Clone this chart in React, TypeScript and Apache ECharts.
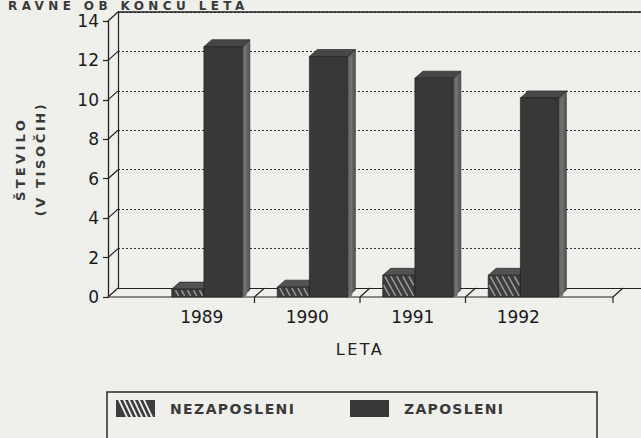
import React, { useEffect, useRef } from 'react';
import * as echarts from 'echarts';

// ---- data ----
const years = ['1989', '1990', '1991', '1992'];
const nezaposleni = [0.4, 0.5, 1.1, 1.1];
const zaposleni = [12.7, 12.2, 11.1, 10.1];
const yTicks = [0, 2, 4, 6, 8, 10, 12, 14];
const seriesNames = ['NEZAPOSLENI', 'ZAPOSLENI'];
const titleText = 'RAVNE OB KONCU LETA';
const yNameLines = ['ŠTEVILO', '(V TISOČIH)'];
const xName = 'LETA';

// ---- layout (pixels) ----
const BACK = { left: 118, top: 12, bottom: 288 };
const DEPTH = { dx: 10, dy: -9 };
const FRONT = { left: 108, top: 21, bottom: 297, right: 613 };
const CAT = { left: 149, right: 571 };
const BAR_DEPTH = { dx: 8, dy: -7 };
const Y_MAX = 14;
const Y_STEP = 2;
const H = 438;
const FONT = 'DejaVu Sans';

const SPACING: Record<string, number> = {
  [titleText]: 4.4,
  [yNameLines[0]]: 3.3,
  [yNameLines[1]]: 2.6,
  [xName]: 2.5,
  [seriesNames[0]]: 1.4,
  [seriesNames[1]]: 1.3,
};

// hatched legend icon: rect with slanted holes (counter-clockwise)
const hatchIcon = (() => {
  let d = 'path://M0,0 L39,0 L39,17 L0,17 Z';
  for (let a = 2; a <= 27; a += 5) {
    d += ` M${a},0 L${a + 8},17 L${a + 10},17 L${a + 2},0 Z`;
  }
  return d;
})();

function hatch(x0: number, x1: number, yT: number, yB: number, spacing: number, slant: number, stroke: string) {
  const out: any[] = [];
  const h = yB - yT;
  if (h < 1) return out;
  const sh = slant * h;
  for (let a = x0 - sh; a <= x1; a += spacing) {
    const tmin = Math.max(0, (x0 - a) / sh);
    const tmax = Math.min(1, (x1 - a) / sh);
    if (tmax <= tmin) continue;
    out.push({
      type: 'line',
      shape: { x1: a + sh * tmin, y1: yT + h * tmin, x2: a + sh * tmax, y2: yT + h * tmax },
      style: { stroke, lineWidth: 1.5 },
    });
  }
  return out;
}

function makeRender(kind: 'nez' | 'zap') {
  return (params: any, api: any) => {
    const i = api.value(0);
    const v = api.value(1);
    const base = api.coord([i, 0]);
    const top = api.coord([i, v]);
    const band = api.size([1, 0])[0];
    const cx = base[0];
    const [l, r] = kind === 'nez' ? [-0.285, 0.02] : [0.02, 0.38];
    const x0 = cx + l * band;
    const x1 = cx + r * band;
    const yT = top[1];
    const yB = base[1];
    const { dx, dy } = BAR_DEPTH;
    const cFront = kind === 'nez' ? '#3d3d3d' : '#383838';
    const cTop = kind === 'nez' ? '#525252' : '#474747';
    const cSide = kind === 'nez' ? '#4a4a4a' : '#5e5e5e';
    const edge = { stroke: '#1c1c1c', lineWidth: 0.6 };
    const children: any[] = [
      {
        type: 'polygon',
        shape: { points: [[x1, yT], [x1 + dx, yT + dy], [x1 + dx, yB + dy], [x1, yB]] },
        style: { fill: cSide, ...edge },
      },
      {
        type: 'polygon',
        shape: { points: [[x0, yT], [x0 + dx, yT + dy], [x1 + dx, yT + dy], [x1, yT]] },
        style: { fill: cTop, ...edge },
      },
      {
        type: 'rect',
        shape: { x: x0, y: yT, width: x1 - x0, height: yB - yT },
        style: { fill: cFront, ...edge },
      },
    ];
    if (kind === 'nez') {
      children.push(...hatch(x0 + 1, x1 - 1, yT + 1, yB - 1, 6, 0.55, '#9c9c9c'));
    } else {
      children.push({
        type: 'polygon',
        shape: { points: [[x1 + 2, yT + 1], [x1 + 5, yT - 2], [x1 + 5, yB - 2], [x1 + 2, yB + 1]] },
        style: { fill: '#717171' },
      });
    }
    return { type: 'group', children };
  };
}

function buildFrame() {
  const els: any[] = [];
  const stroke = { stroke: '#222', lineWidth: 1.2 };
  const line = (x1: number, y1: number, x2: number, y2: number) => ({
    type: 'line', z: 1, shape: { x1, y1, x2, y2 }, style: stroke,
  });
  const yF = (v: number) => FRONT.bottom - (v / Y_MAX) * (FRONT.bottom - FRONT.top);
  els.push(line(FRONT.left, FRONT.bottom, FRONT.right, FRONT.bottom));
  yTicks.forEach((v) => els.push(line(FRONT.left, yF(v), FRONT.left + DEPTH.dx, yF(v) + DEPTH.dy)));
  const band = (CAT.right - CAT.left) / years.length;
  const bounds = years.slice(1).map((_, k) => CAT.left + band * (k + 1)).concat([FRONT.right]);
  bounds.forEach((b) => {
    els.push(line(b, FRONT.bottom, b, FRONT.bottom + 6));
    els.push(line(b, FRONT.bottom, b + DEPTH.dx, FRONT.bottom + DEPTH.dy));
  });
  els.push({
    type: 'rect', z: 1,
    shape: { x: 107, y: 392, width: 490, height: 80 },
    style: { fill: 'none', stroke: '#2a2a2a', lineWidth: 1.5 },
  });
  els.push({
    type: 'text', z: 1, x: 8, y: 0,
    style: {
      text: titleText, fill: '#3a3a3a', fontSize: 12, lineHeight: 11, fontWeight: 'bold', fontFamily: FONT,
      verticalAlign: 'top',
    },
  });
  return els;
}

function applySpacing(el: HTMLElement) {
  el.querySelectorAll('text').forEach((t) => {
    const s = SPACING[(t.textContent || '').trim()];
    if (s !== undefined) t.setAttribute('letter-spacing', String(s));
  });
}

export default function App() {
  const ref = useRef<HTMLDivElement>(null);
  useEffect(() => {
    if (!ref.current) return;
    const chart = echarts.init(ref.current, null, { renderer: 'svg' });
    const legendText = {
      fontSize: 14, fontWeight: 'bold', fontFamily: FONT, color: '#3a3a3a', padding: [0, 0, 0, 10],
    };
    chart.setOption({
      animation: false,
      backgroundColor: '#efefec',
      grid: [
        { left: BACK.left, right: 0, top: BACK.top, bottom: H - BACK.bottom },
        { left: CAT.left, right: 641 - CAT.right, top: FRONT.top, bottom: H - FRONT.bottom },
      ],
      xAxis: [
        {
          gridIndex: 0, type: 'value', min: 0, max: 1, position: 'bottom',
          axisLine: { show: true, lineStyle: { color: '#222', width: 1.2 } },
          axisTick: { show: false }, axisLabel: { show: false }, splitLine: { show: false },
        },
        {
          gridIndex: 0, type: 'value', min: 0, max: 1, position: 'top',
          axisLine: { show: true, lineStyle: { color: '#222', width: 1.5 } },
          axisTick: { show: false }, axisLabel: { show: false }, splitLine: { show: false },
        },
        {
          gridIndex: 1, type: 'category', data: years,
          axisLine: { show: false }, axisTick: { show: false },
          axisLabel: { fontSize: 17, fontFamily: FONT, color: '#1a1a1a', margin: 11 },
          name: xName, nameLocation: 'middle', nameGap: 44,
          nameTextStyle: { fontSize: 16, fontFamily: FONT, color: '#222' },
        },
      ],
      yAxis: [
        {
          gridIndex: 0, type: 'value', min: 0, max: Y_MAX, interval: Y_STEP,
          axisLine: { show: true, lineStyle: { color: '#222', width: 1.2 } },
          axisTick: { show: false }, axisLabel: { show: false },
          splitLine: { show: true, lineStyle: { color: '#2e2e2e', type: [2, 2], width: 1.2 } },
        },
        {
          gridIndex: 1, type: 'value', min: 0, max: Y_MAX, interval: Y_STEP, offset: CAT.left - FRONT.left,
          axisLine: { show: true, lineStyle: { color: '#222', width: 1.3 } },
          axisTick: { show: true, length: 5, lineStyle: { color: '#222', width: 1.2 } },
          axisLabel: { fontSize: 17, lineHeight: 16, fontFamily: FONT, color: '#1a1a1a', margin: 9 },
          splitLine: { show: false },
          name: yNameLines.join('\n'), nameLocation: 'middle', nameRotate: 90, nameGap: 58,
          nameTextStyle: { fontSize: 13, fontWeight: 'bold', fontFamily: FONT, color: '#3a3a3a', lineHeight: 20 },
        },
      ],
      legend: [
        {
          left: 116, top: 400, itemWidth: 39, itemHeight: 17, selectedMode: false, padding: 0,
          data: [{ name: seriesNames[0], icon: hatchIcon }], textStyle: legendText,
        },
        {
          left: 350, top: 400, itemWidth: 39, itemHeight: 17, selectedMode: false, padding: 0,
          data: [{ name: seriesNames[1], icon: 'rect' }], textStyle: legendText,
        },
      ],
      graphic: buildFrame(),
      series: [
        {
          name: seriesNames[0], type: 'custom', xAxisIndex: 2, yAxisIndex: 1,
          itemStyle: { color: '#3d3d3d' },
          renderItem: makeRender('nez'),
          encode: { x: 0, y: 1 },
          data: years.map((_, i) => [i, nezaposleni[i]]),
        },
        {
          name: seriesNames[1], type: 'custom', xAxisIndex: 2, yAxisIndex: 1,
          itemStyle: { color: '#383838' },
          renderItem: makeRender('zap'),
          encode: { x: 0, y: 1 },
          data: years.map((_, i) => [i, zaposleni[i]]),
        },
      ],
    });
    const el = ref.current;
    applySpacing(el);
    chart.on('finished', () => applySpacing(el));
    const t = setTimeout(() => applySpacing(el), 50);
    return () => {
      clearTimeout(t);
      chart.dispose();
    };
  }, []);
  return <div ref={ref} style={{ position: 'fixed', left: 0, top: 0, width: 641, height: 438 }} />;
}
